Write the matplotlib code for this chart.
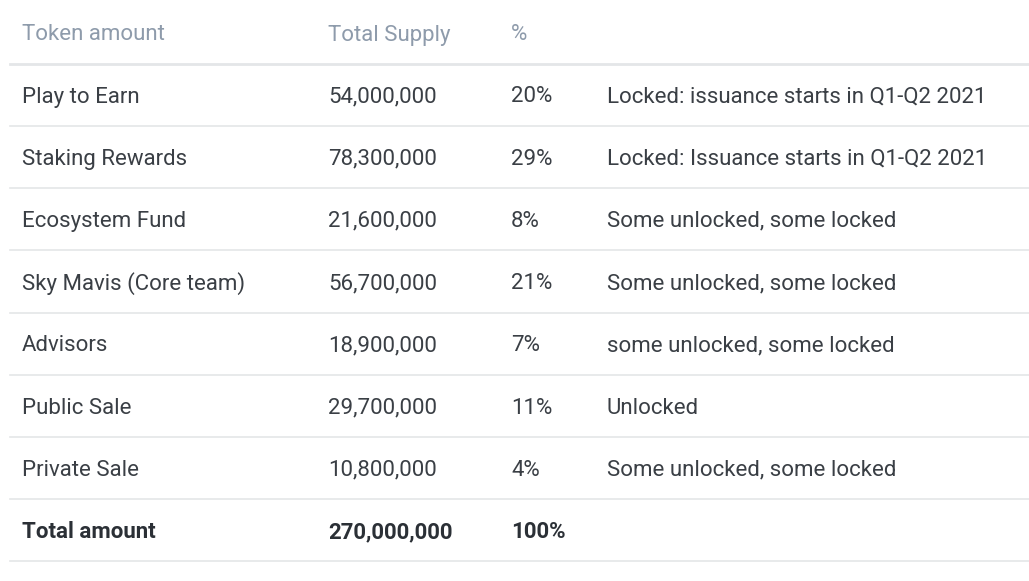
import matplotlib.pyplot as plt

headers = ["Token amount", "Total Supply", "%", ""]
names = ["Play to Earn", "Staking Rewards", "Ecosystem Fund", "Sky Mavis (Core team)",
         "Advisors", "Public Sale", "Private Sale"]
supply = ["54,000,000", "78,300,000", "21,600,000", "56,700,000",
          "18,900,000", "29,700,000", "10,800,000"]
pct = ["20%", "29%", "8%", "21%", "7%", "11%", "4%"]
notes = ["Locked: issuance starts in Q1-Q2 2021", "Locked: Issuance starts in Q1-Q2 2021",
         "Some unlocked, some locked", "Some unlocked, some locked",
         "some unlocked, some locked", "Unlocked", "Some unlocked, some locked"]
total = ["Total amount", "270,000,000", "100%", ""]

col_x = [22, 328, 511, 607]
fig = plt.figure(figsize=(10.29, 5.81), dpi=100)
ax = fig.add_axes([0, 0, 1, 1])
ax.set_xlim(0, 1029)
ax.set_ylim(581, 0)
ax.axis("off")

fs = 16
head_c = "#8e9bab"
body_c = "#3a3f45"
line_c = "#e4e6e8"

for x, h in zip(col_x, headers):
    ax.text(x, 35, h, fontsize=fs, color=head_c, va="center", family="Roboto")
ax.plot([10, 1029], [64, 64], color=line_c, lw=2)

rows = list(zip(names, supply, pct, notes))
for i, row in enumerate(rows):
    y = 97 + i * 62.2
    for x, t in zip(col_x, row):
        ax.text(x, y, t, fontsize=fs, color=body_c, va="center", family="Roboto")
    ax.plot([10, 1029], [y + 29, y + 29], color=line_c, lw=1.2)

y = 97 + len(rows) * 62.2
for x, t in zip(col_x, total):
    ax.text(x, y, t, fontsize=fs, color="#2b3036", va="center", family="Roboto",
            fontweight="bold")
ax.plot([10, 1029], [y + 29, y + 29], color=line_c, lw=1.2)

fig.savefig("out.png", dpi=100, facecolor="white")
